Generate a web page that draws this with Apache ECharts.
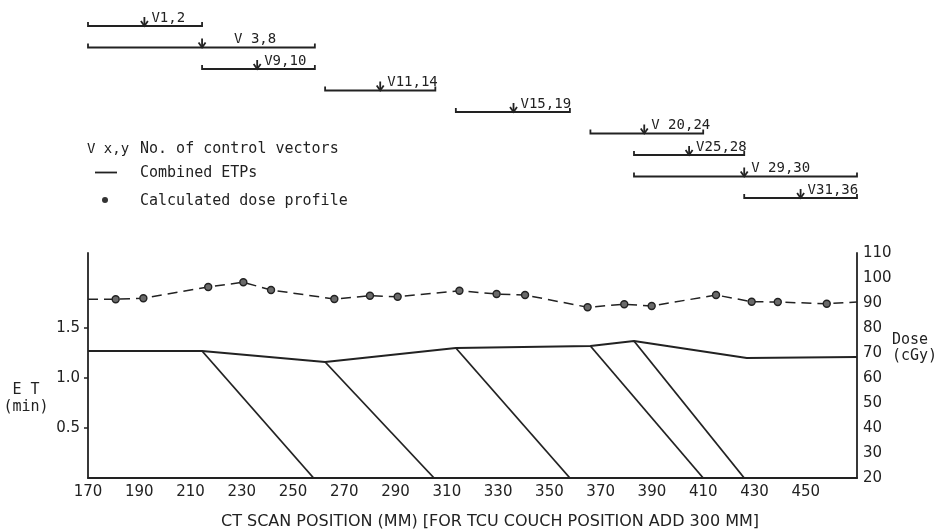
<!DOCTYPE html>
<html>
<head>
<meta charset="utf-8">
<script src="https://cdn.jsdelivr.net/npm/echarts@6/dist/echarts.min.js"></script>
<style>
  html, body { margin: 0; padding: 0; background: #ffffff; }
  #chart { width: 945px; height: 532px; }
</style>
</head>
<body>
<div id="chart"></div>
<script>
// CT scan position tick labels (mm)
const xTickLabels = [170, 190, 210, 230, 250, 270, 290, 310, 330, 350, 370, 390, 410, 430, 450];
// ET axis labels (min) and dose axis ticks (cGy)
const etTickLabels = [0.5, 1.0, 1.5];
const doseTickLabels = [20, 30, 40, 50, 60, 70, 80, 90, 100, 110];

// Combined ETP envelope: [position mm, ET min]
const etpEnvelope = [[170, 1.27], [214.5, 1.27], [262.5, 1.16], [313.5, 1.30], [366, 1.32], [383, 1.37], [427, 1.20], [470, 1.21]];
// Fall-off edges of the individual ETPs: start on the envelope, end at zero
const etpFalloffStart = [[214.5, 1.27], [262.5, 1.16], [313.5, 1.30], [366, 1.32], [383, 1.37]];
const etpFalloffEnd = [[258, 0], [305, 0], [358, 0], [410, 0], [426, 0]];

// Calculated dose profile
const dosePosition = [180.8, 191.6, 216.9, 230.6, 241.4, 266.1, 280, 290.8, 314.9, 329.4, 340.5, 364.9, 379.2, 389.9, 415, 428.9, 439.1, 458.2];
const doseValue = [91.5, 91.9, 96.4, 98.3, 95.2, 91.6, 92.9, 92.5, 94.9, 93.6, 93.2, 88.3, 89.5, 88.8, 93.2, 90.5, 90.4, 89.7];
// Dashed profile continues to both dose-axis edges
const doseEdgePosition = [170, 470];
const doseEdgeValue = [91.5, 90.4];

// Control-vector ranges
const vectorLabels = ['V1,2', 'V 3,8', 'V9,10', 'V11,14', 'V15,19', 'V 20,24', 'V25,28', 'V 29,30', 'V31,36'];
const vectorStart = [170, 170, 214.5, 262.5, 313.5, 366, 383, 383, 426];
const vectorEnd = [214.5, 258.5, 258.5, 305.5, 358, 410, 426, 470, 470];
const vectorMark = [192, 214.5, 236, 284, 336, 387, 404.5, 426, 448];

const INK = '#222222';
const NUM_FONT = "'DejaVu Sans', sans-serif";
const TXT_FONT = "'DejaVu Sans Mono', monospace";
const X_MIN = 170, X_MAX = 470;

const chart = echarts.init(document.getElementById('chart'), null, { renderer: 'canvas' });

const falloffSeries = etpFalloffStart.map((p, i) => ({
  type: 'line',
  xAxisIndex: 0,
  yAxisIndex: 0,
  data: [p, etpFalloffEnd[i]],
  symbol: 'none',
  silent: true,
  lineStyle: { color: INK, width: 1.8 },
  z: 3
}));

const doseData = [
  { value: [doseEdgePosition[0], doseEdgeValue[0]], symbol: 'none' },
  ...dosePosition.map((x, i) => [x, doseValue[i]]),
  { value: [doseEdgePosition[1], doseEdgeValue[1]], symbol: 'none' }
];

// Label nudges for the range annotations (px)
const labelShift = { 'V 3,8': 25 };

function renderRange(params, api) {
  const row = api.value(3);
  const s = api.coord([api.value(0), row]);
  const e = api.coord([api.value(1), row]);
  const m = api.coord([api.value(2), row]);
  const y = s[1];
  const name = vectorLabels[params.dataIndex];
  const lineStyle = { stroke: INK, lineWidth: 1.8, fill: 'none' };
  return {
    type: 'group',
    children: [
      { type: 'polyline', shape: { points: [[s[0], y - 4], [s[0], y], [e[0], y], [e[0], y - 4]] }, style: lineStyle },
      { type: 'polyline', shape: { points: [[m[0], y - 9], [m[0], y]] }, style: lineStyle },
      { type: 'polyline', shape: { points: [[m[0] - 3.5, y - 5], [m[0], y], [m[0] + 3.5, y - 5]] }, style: lineStyle },
      {
        type: 'text',
        x: m[0] + 7 + (labelShift[name] || 0),
        y: y - 1,
        style: { text: name, fill: INK, font: '14px ' + TXT_FONT, align: 'left', verticalAlign: 'bottom' }
      }
    ]
  };
}

const option = {
  backgroundColor: '#ffffff',
  animation: false,
  grid: [
    { left: 88, right: 88, top: 253, height: 225, containLabel: false },
    { left: 88, right: 88, top: 26, height: 172, containLabel: false }
  ],
  xAxis: [
    {
      type: 'value', gridIndex: 0, min: X_MIN, max: X_MAX, interval: 20,
      axisLine: { show: true, lineStyle: { color: INK, width: 1.8 } },
      axisTick: { show: false },
      splitLine: { show: false },
      axisLabel: { customValues: xTickLabels, color: INK, fontFamily: NUM_FONT, fontSize: 15, margin: 7 }
    },
    { type: 'value', gridIndex: 1, min: X_MIN, max: X_MAX, show: false, splitLine: { show: false } }
  ],
  yAxis: [
    {
      type: 'value', gridIndex: 0, min: 0, max: 2.25, position: 'left',
      axisLine: { show: true, lineStyle: { color: INK, width: 1.8 } },
      axisTick: { show: true, customValues: etTickLabels, length: 4, lineStyle: { color: INK, width: 1.5 } },
      splitLine: { show: false },
      axisLabel: { customValues: etTickLabels, formatter: v => v.toFixed(1), color: INK, fontFamily: NUM_FONT, fontSize: 15, margin: 8 }
    },
    {
      type: 'value', gridIndex: 0, min: 20, max: 110, interval: 10, position: 'right',
      axisLine: { show: true, lineStyle: { color: INK, width: 1.8 } },
      axisTick: { show: false },
      splitLine: { show: false },
      axisLabel: { customValues: doseTickLabels, color: INK, fontFamily: NUM_FONT, fontSize: 15, margin: 6 }
    },
    {
      type: 'category', gridIndex: 1, data: vectorLabels, inverse: true, boundaryGap: false, show: false
    }
  ],
  series: [
    {
      name: 'Combined ETPs',
      type: 'line',
      xAxisIndex: 0,
      yAxisIndex: 0,
      data: etpEnvelope,
      symbol: 'none',
      silent: true,
      lineStyle: { color: INK, width: 1.8 },
      z: 3
    },
    ...falloffSeries,
    {
      name: 'Calculated dose profile',
      type: 'line',
      xAxisIndex: 0,
      yAxisIndex: 1,
      data: doseData,
      symbol: 'circle',
      symbolSize: 7,
      showAllSymbol: true,
      silent: true,
      lineStyle: { color: INK, width: 1.5, type: [10, 6] },
      itemStyle: { color: '#6a6a6a', borderColor: INK, borderWidth: 1.4 },
      z: 4
    },
    {
      name: 'No. of control vectors',
      type: 'custom',
      xAxisIndex: 1,
      yAxisIndex: 2,
      renderItem: renderRange,
      clip: false,
      silent: true,
      encode: { x: [0, 1, 2], y: 3 },
      data: vectorLabels.map((n, i) => [vectorStart[i], vectorEnd[i], vectorMark[i], i])
    }
  ],
  graphic: [
    // key
    { type: 'text', left: 87, top: 142, style: { text: 'V x,y', fill: INK, font: '14px ' + TXT_FONT } },
    { type: 'text', left: 140, top: 142, style: { text: 'No. of control vectors', fill: INK, font: '15px ' + TXT_FONT } },
    { type: 'line', shape: { x1: 95, y1: 172.5, x2: 117, y2: 172.5 }, style: { stroke: INK, lineWidth: 1.8 } },
    { type: 'text', left: 140, top: 166, style: { text: 'Combined ETPs', fill: INK, font: '15px ' + TXT_FONT } },
    { type: 'circle', shape: { cx: 105, cy: 200, r: 3 }, style: { fill: '#333333' } },
    { type: 'text', left: 140, top: 194, style: { text: 'Calculated dose profile', fill: INK, font: '15px ' + TXT_FONT } },
    // axis titles
    { type: 'text', x: 26, y: 399, style: { text: 'E T\n(min)', fill: INK, font: '15px ' + TXT_FONT, align: 'center', verticalAlign: 'middle', lineHeight: 17 } },
    { type: 'text', x: 892, y: 348, style: { text: 'Dose\n(cGy)', fill: INK, font: '15px ' + TXT_FONT, align: 'left', verticalAlign: 'middle', lineHeight: 16 } },
    { type: 'text', x: 490, y: 522, style: { text: 'CT SCAN POSITION (MM) [FOR TCU COUCH POSITION ADD 300 MM]', fill: INK, font: '16px DejaVu Sans', align: 'center', verticalAlign: 'middle' } }
  ]
};

chart.setOption(option);
</script>
</body>
</html>
